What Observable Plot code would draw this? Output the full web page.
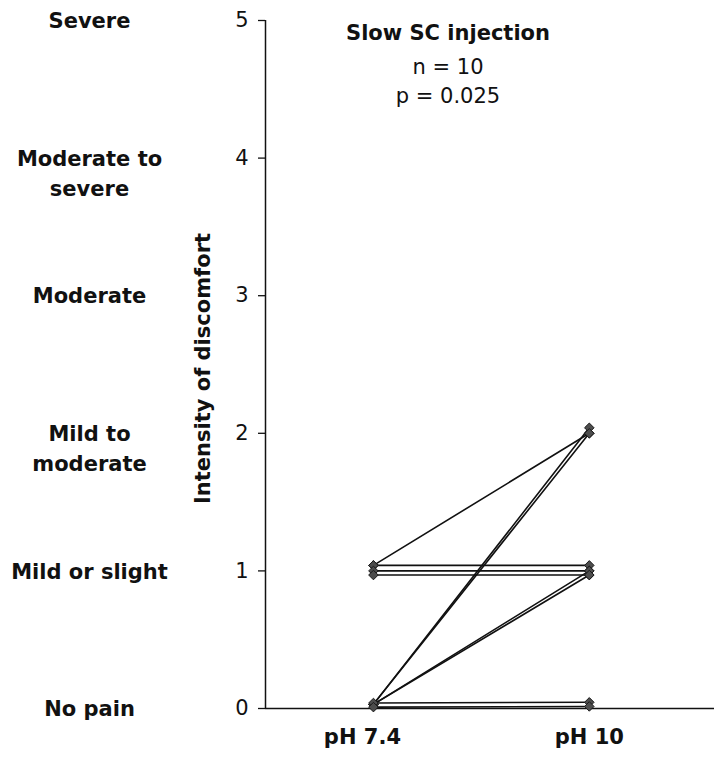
<!DOCTYPE html>
<html><head><meta charset="utf-8">
<script src="https://cdn.jsdelivr.net/npm/d3@7"></script>
<script src="https://cdn.jsdelivr.net/npm/@observablehq/plot@0.6"></script>
<style>body{margin:0;background:#fff;}</style>
</head><body><div id="chart"></div>
<script>
const conditions = ["pH 7.4", "pH 10"];
const scoreTicks = [0, 1, 2, 3, 4, 5];
const scoreLabels = ["No pain", "Mild or slight", "Mild to\nmoderate", "Moderate", "Moderate to\nsevere", "Severe"];
const ph74 = [1.04, 1.04, 1.0, 0.97, 0.03, 0.03, 0.03, 0.03, 0.04, 0.01];
const ph10 = [2.0, 1.04, 1.0, 0.97, 2.04, 2.0, 1.0, 0.97, 0.045, 0.015];
const titleLines = ["Slow SC injection", "n = 10", "p = 0.025"];
const yLabel = "Intensity of discomfort";

const data = ph74.flatMap((v, i) => [
  {subject: i, cond: 0, value: v},
  {subject: i, cond: 1, value: ph10[i]}
]);

const chart = Plot.plot({
  width: 714, height: 763,
  marginLeft: 265, marginRight: 0, marginTop: 20, marginBottom: 55,
  style: {fontFamily: "'DejaVu Sans', sans-serif", fontSize: "21px", color: "#111", background: "#fff"},
  x: {type: "linear", domain: [-0.5, 1.58], axis: null},
  y: {domain: [0, 5], axis: null},
  marks: [
    Plot.axisY({ticks: scoreTicks, tickSize: 7, tickPadding: 10, tickFormat: d => String(d), label: null, fontSize: 21, strokeWidth: 1.3}),
    Plot.ruleY([0], {stroke: "#111", strokeWidth: 1.5}),
    Plot.ruleX([-0.5], {stroke: "#111", strokeWidth: 1.5}),
    Plot.text(scoreTicks, {y: d => d, text: (d, i) => scoreLabels[i], frameAnchor: "left", dx: -176, textAnchor: "middle", lineAnchor: "top", dy: -14, lineHeight: 1.45, fontWeight: "bold", fontSize: 21}),
    Plot.text([yLabel], {frameAnchor: "left", dx: -62, dy: 4, rotate: -90, textAnchor: "middle", fontWeight: "bold", fontSize: 21, lineAnchor: "middle"}),
    Plot.text([titleLines[0]], {frameAnchor: "top", dx: -42, dy: 13, textAnchor: "middle", lineAnchor: "middle", fontWeight: "bold", fontSize: 21}),
    Plot.text([titleLines[1]], {frameAnchor: "top", dx: -42, dy: 47, textAnchor: "middle", lineAnchor: "middle", fontSize: 21}),
    Plot.text([titleLines[2]], {frameAnchor: "top", dx: -42, dy: 76, textAnchor: "middle", lineAnchor: "middle", fontSize: 21}),
    Plot.text(conditions, {filter: (d, i) => i === 0, x: (d, i) => i, frameAnchor: "bottom", lineAnchor: "middle", dy: 29, dx: -11, fontWeight: "bold", fontSize: 21}),
    Plot.text(conditions, {filter: (d, i) => i === 1, x: (d, i) => i, frameAnchor: "bottom", lineAnchor: "middle", dy: 29, fontWeight: "bold", fontSize: 21}),
    Plot.line(data, {x: "cond", y: "value", z: "subject", stroke: "#111", strokeWidth: 1.6}),
    Plot.dot(data, {x: "cond", y: "value", symbol: "diamond2", r: 4.3, fill: "#4d4d4d", stroke: "#1a1a1a", strokeWidth: 1})
  ]
});
document.getElementById("chart").appendChild(chart);
</script>
</body></html>
